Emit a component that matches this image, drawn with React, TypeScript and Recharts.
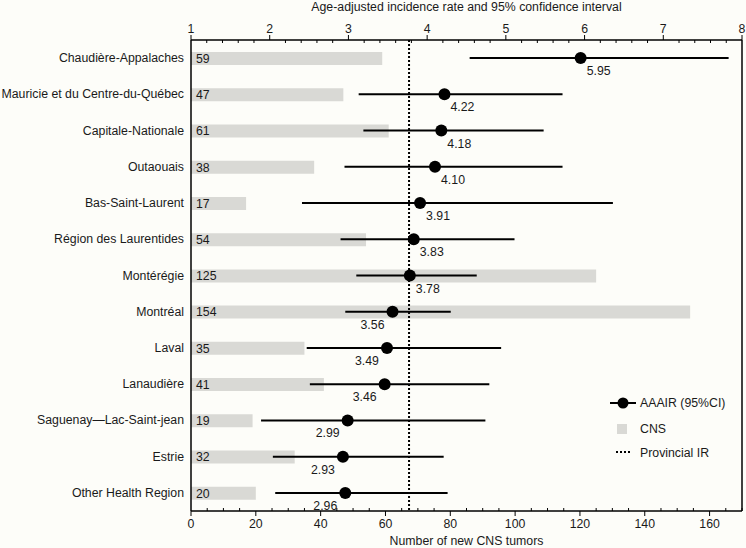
import {
  ComposedChart,
  Bar,
  Line,
  XAxis,
  YAxis,
  ReferenceLine,
  ErrorBar,
  LabelList,
} from "recharts";

const regions = [
  "Chaudière-Appalaches",
  "Mauricie et du Centre-du-Québec",
  "Capitale-Nationale",
  "Outaouais",
  "Bas-Saint-Laurent",
  "Région des Laurentides",
  "Montérégie",
  "Montréal",
  "Laval",
  "Lanaudière",
  "Saguenay—Lac-Saint-jean",
  "Estrie",
  "Other Health Region",
];
const cnsCounts = [59, 47, 61, 38, 17, 54, 125, 154, 35, 41, 19, 32, 20];
const aaair = [5.95, 4.22, 4.18, 4.1, 3.91, 3.83, 3.78, 3.56, 3.49, 3.46, 2.99, 2.93, 2.96];
const ciLow = [4.54, 3.13, 3.19, 2.95, 2.41, 2.9, 3.1, 2.96, 2.47, 2.51, 1.89, 2.04, 2.07];
const ciHigh = [7.83, 5.72, 5.48, 5.72, 6.36, 5.11, 4.63, 4.3, 4.94, 4.79, 4.74, 4.21, 4.26];
const provincialRate = 3.77;

const rateMajorTicks = [1, 2, 3, 4, 5, 6, 7, 8];
const countMajorTicks = [0, 20, 40, 60, 80, 100, 120, 140, 160];

// minor tick marks: 0.2 on the rate axis, 5 on the count axis
const rateTicks = Array.from({ length: 36 }, (_, i) => Math.round((1 + i * 0.2) * 10) / 10);
const countTicks = Array.from({ length: 35 }, (_, i) => i * 5);

const data = regions.map((region, i) => ({
  region,
  count: cnsCounts[i],
  rate: aaair[i],
  err: [aaair[i] - ciLow[i], ciHigh[i] - aaair[i]],
}));

const FONT = "'Liberation Sans', Arial, Helvetica, sans-serif";
const FS = 12.3;
const INK = "#1a1a1a";

function TopTick(props: any) {
  const { x, y, payload } = props;
  const v = payload.value;
  if (rateMajorTicks.includes(v)) {
    return (
      <g>
        <line x1={x} x2={x} y1={y} y2={y - 5} stroke="#000" strokeWidth={1} />
        <text x={x} y={y - 7} textAnchor="middle" fontSize={FS} fontFamily={FONT} fill={INK}>
          {v}
        </text>
      </g>
    );
  }
  return <line x1={x} x2={x} y1={y} y2={y + 3} stroke="#000" strokeWidth={1} />;
}

function BottomTick(props: any) {
  const { x, y, payload } = props;
  const v = payload.value;
  if (countMajorTicks.includes(v)) {
    return (
      <g>
        <line x1={x} x2={x} y1={y} y2={y + 5} stroke="#000" strokeWidth={1} />
        <text x={x} y={y + 17} textAnchor="middle" fontSize={FS} fontFamily={FONT} fill={INK}>
          {v}
        </text>
      </g>
    );
  }
  return <line x1={x} x2={x} y1={y} y2={y - 3} stroke="#000" strokeWidth={1} />;
}

function RegionTick(props: any) {
  const { x, y, payload } = props;
  return (
    <text x={x} y={y + 4} textAnchor="end" fontSize={FS} fontFamily={FONT} fill={INK}>
      {payload.value}
    </text>
  );
}

function RateLabel(props: any) {
  const { x, y, value } = props;
  const left = value < provincialRate;
  return (
    <text
      x={left ? x - 20 : x + 18}
      y={y + 17}
      textAnchor="middle"
      fontSize={FS}
      fontFamily={FONT}
      fill={INK}
    >
      {Number(value).toFixed(2)}
    </text>
  );
}

function LegendBox() {
  const text = { position: "absolute" as const, left: 640, fontSize: FS, fontFamily: FONT, color: INK, lineHeight: "14px" };
  return (
    <>
      <svg style={{ position: "absolute", left: 608, top: 396 }} width={30} height={14}>
        <line x1={2} x2={28} y1={7} y2={7} stroke="#000" strokeWidth={2} />
        <circle cx={15} cy={7} r={5.5} fill="#000" />
      </svg>
      <div style={{ ...text, top: 396 }}>AAAIR (95%CI)</div>
      <div style={{ position: "absolute", left: 617, top: 424, width: 10, height: 10, background: "#d9d9d5" }} />
      <div style={{ ...text, top: 422 }}>CNS</div>
      <svg style={{ position: "absolute", left: 615, top: 449 }} width={18} height={6}>
        <line x1={1} x2={16} y1={3} y2={3} stroke="#000" strokeWidth={2} strokeDasharray="2 2" />
      </svg>
      <div style={{ ...text, top: 446 }}>Provincial IR</div>
    </>
  );
}

export default function App() {
  return (
    <div style={{ position: "absolute", left: 0, top: 0, width: 746, height: 548, background: "#fdfdf9" }}>
      <ComposedChart
        width={746}
        height={548}
        data={data}
        layout="vertical"
        margin={{ top: 0, right: 4, bottom: 0, left: 0 }}
      >
        <XAxis
          xAxisId="rate"
          type="number"
          orientation="top"
          domain={[1, 8]}
          ticks={rateTicks}
          interval={0}
          height={40}
          tickSize={0}
          tickMargin={0}
          tickLine={false}
          tick={<TopTick />}
          axisLine={{ stroke: "#000", strokeWidth: 1.5 }}
          label={{
            value: "Age-adjusted incidence rate and 95% confidence interval",
            position: "insideTop",
            offset: 2,
            fontSize: FS,
            fontFamily: FONT,
            fill: INK,
          }}
        />
        <XAxis
          xAxisId="count"
          type="number"
          orientation="bottom"
          domain={[0, 170]}
          ticks={countTicks}
          interval={0}
          height={37}
          tickSize={0}
          tickMargin={0}
          tickLine={false}
          tick={<BottomTick />}
          axisLine={{ stroke: "#000", strokeWidth: 1.5 }}
          label={{
            value: "Number of new CNS tumors",
            position: "insideBottom",
            offset: 3,
            fontSize: FS,
            fontFamily: FONT,
            fill: INK,
          }}
        />
        <YAxis
          type="category"
          dataKey="region"
          width={191}
          tickSize={0}
          tickMargin={7}
          tickLine={false}
          interval={0}
          tick={<RegionTick />}
          axisLine={{ stroke: "#000", strokeWidth: 1.5 }}
        />
        <ReferenceLine xAxisId="count" x={170} stroke="#000" strokeWidth={1.5} />
        <Bar xAxisId="count" dataKey="count" fill="#d9d9d5" barSize={13} isAnimationActive={false}>
          <LabelList
            dataKey="count"
            position="insideLeft"
            offset={5}
            fontSize={FS}
            fontFamily={FONT}
            fill={INK}
          />
        </Bar>
        <ReferenceLine
          xAxisId="rate"
          x={provincialRate}
          stroke="#000"
          strokeWidth={2}
          strokeDasharray="2 2"
        />
        <Line
          xAxisId="rate"
          dataKey="rate"
          stroke="none"
          dot={{ r: 6, fill: "#000", stroke: "#000", strokeWidth: 0 }}
          activeDot={false}
          isAnimationActive={false}
        >
          <ErrorBar dataKey="err" direction="x" width={0} stroke="#000" strokeWidth={2} />
          <LabelList dataKey="rate" content={<RateLabel />} />
        </Line>
      </ComposedChart>
      <LegendBox />
    </div>
  );
}
